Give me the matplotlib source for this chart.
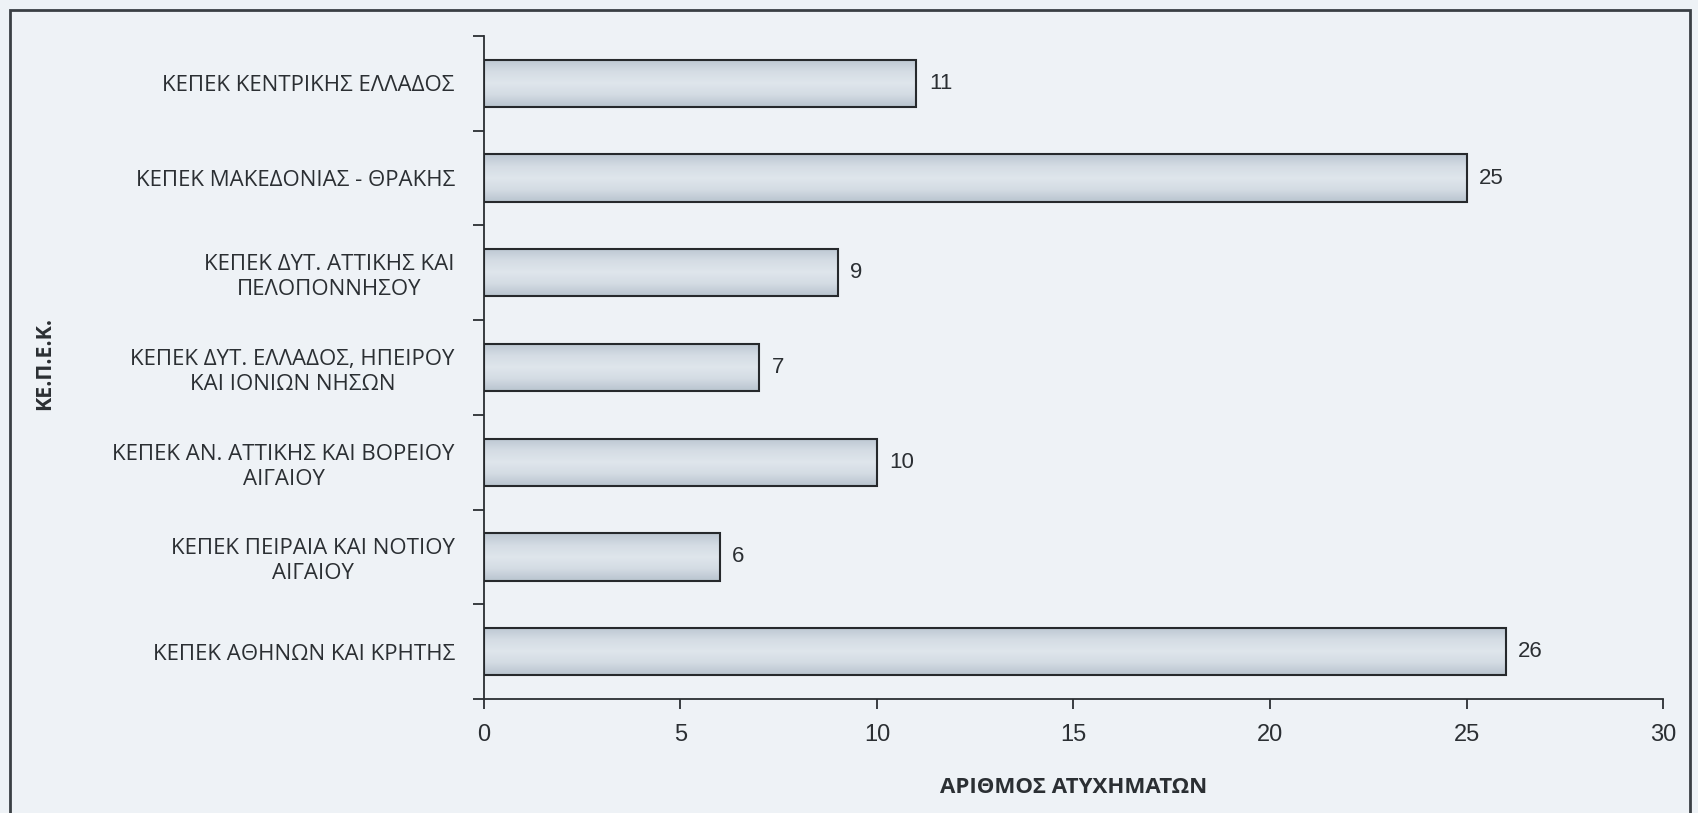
import numpy as np
import matplotlib
matplotlib.use("Agg")
import matplotlib.pyplot as plt
from matplotlib.patches import Rectangle
from matplotlib.colors import LinearSegmentedColormap

# Accidents per regional centre (top to bottom as drawn)
centres = [
    "ΚΕΠΕΚ ΚΕΝΤΡΙΚΗΣ ΕΛΛΑΔΟΣ",
    "ΚΕΠΕΚ ΜΑΚΕΔΟΝΙΑΣ - ΘΡΑΚΗΣ",
    "ΚΕΠΕΚ ΔΥΤ. ΑΤΤΙΚΗΣ ΚΑΙ\nΠΕΛΟΠΟΝΝΗΣΟΥ",
    "ΚΕΠΕΚ ΔΥΤ. ΕΛΛΑΔΟΣ, ΗΠΕΙΡΟΥ\nΚΑΙ ΙΟΝΙΩΝ ΝΗΣΩΝ",
    "ΚΕΠΕΚ ΑΝ. ΑΤΤΙΚΗΣ ΚΑΙ ΒΟΡΕΙΟΥ\nΑΙΓΑΙΟΥ",
    "ΚΕΠΕΚ ΠΕΙΡΑΙΑ ΚΑΙ ΝΟΤΙΟΥ\nΑΙΓΑΙΟΥ",
    "ΚΕΠΕΚ ΑΘΗΝΩΝ ΚΑΙ ΚΡΗΤΗΣ",
]
accidents = [11, 25, 9, 7, 10, 6, 26]
x_ticks = [0, 5, 10, 15, 20, 25, 30]

label_font = "Open Sans"
num_font = "Liberation Sans"
ink = "#2b2f33"

fig = plt.figure(figsize=(16.98, 8.13), dpi=100, facecolor="#eef2f6")
ax = fig.add_axes([0.285, 0.1402, 0.6944, 0.8155])
ax.set_facecolor("none")

y = np.arange(len(centres))
bar_h = 0.5
bars = ax.barh(y, accidents, height=bar_h, color="none",
               edgecolor="#26292c", linewidth=1.5, zorder=3)

# soft grey-blue gradient inside each bar
grad_cmap = LinearSegmentedColormap.from_list(
    "bar", ["#bcc7d2", "#d4dce4", "#dfe6ec", "#d3dbe3", "#b9c4cf"])
grad = np.linspace(0, 1, 64).reshape(-1, 1)
for rect, val, yy in zip(bars, accidents, y):
    im = ax.imshow(grad, cmap=grad_cmap, aspect="auto", origin="upper",
                   extent=(0, val, yy + bar_h / 2, yy - bar_h / 2), zorder=2)
    im.set_clip_path(rect)

# value labels next to bar ends
for val, yy in zip(accidents, y):
    ax.annotate(str(val), (val, yy), xytext=(9, 0), textcoords="offset points",
                va="center", ha="left", fontsize=16, family=num_font, color=ink)

ax.set_xlim(0, 30)
ax.set_ylim(len(centres) - 0.5, -0.5)

ax.set_xticks(x_ticks)
ax.set_xticklabels([str(t) for t in x_ticks], family=num_font, fontsize=17, color=ink)
ax.tick_params(axis="x", direction="out", length=7, width=1.3, color=ink, pad=11)

ax.set_yticks(y)
ax.set_yticklabels(centres, family=label_font, fontsize=16, color=ink,
                   multialignment="center", linespacing=1.25)
ax.set_yticks(np.arange(-0.5, len(centres)), minor=True)
ax.tick_params(axis="y", which="major", length=0, pad=21)
ax.tick_params(axis="y", which="minor", direction="out", length=8, width=1.3, color=ink)

for side in ("top", "right"):
    ax.spines[side].set_visible(False)
for side in ("left", "bottom"):
    ax.spines[side].set_color(ink)
    ax.spines[side].set_linewidth(1.3)

ax.set_xlabel("ΑΡΙΘΜΟΣ ΑΤΥΧΗΜΑΤΩΝ", family=label_font, fontsize=16,
              fontweight="bold", color=ink, labelpad=22)
fig.text(0.026, 0.553, "ΚΕ.Π.Ε.Κ.", rotation=90, ha="center", va="center",
         family=label_font, fontsize=15.5, fontweight="bold", color=ink)

# chart frame
fig.patches.append(Rectangle((0.006, -0.01), 0.989, 0.998, transform=fig.transFigure,
                             fill=False, edgecolor="#3a3f44", linewidth=2))

fig.savefig("out.png", dpi=100, facecolor=fig.get_facecolor())
